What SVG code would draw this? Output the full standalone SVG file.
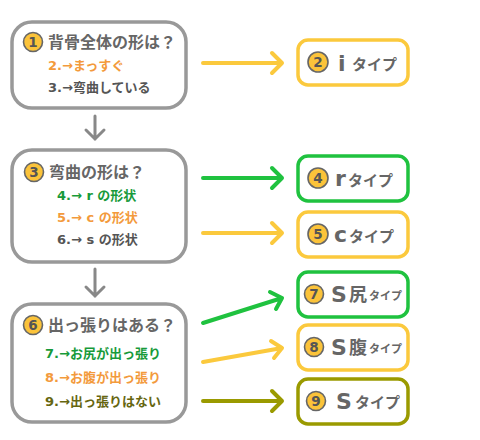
<svg xmlns="http://www.w3.org/2000/svg" width="480" height="440" viewBox="0 0 480 440">
<defs>
<style>
text{font-family:"DejaVu Sans","Noto Sans CJK JP",sans-serif;font-weight:bold}
.q{fill:none;stroke:#999;stroke-width:3.5}
.t{fill:#fff;stroke-width:3.5}
.badge{fill:#fbc33a;stroke:#666;stroke-width:1.6}
.num{fill:#555;font-size:13.5px;text-anchor:middle}
.title{fill:#666;font-size:16px}
.it{font-size:13px}
.gr{fill:#179a3a}.or{fill:#f39a3c}.gy{fill:#555}.ol{fill:#666610}
.lab{fill:#666}
.ar{fill:none;stroke-width:4;stroke-linecap:round;stroke-linejoin:round}
.y{stroke:#fbc93d}.g{stroke:#1fc23f}.o{stroke:#9a9a00}
.dn{fill:none;stroke:#888;stroke-width:3;stroke-linecap:round}
</style>
</defs>
<g id="connectors">
<path class="dn" d="M95 116V139M86 130L95 139L104 130"/>
<path class="dn" d="M95 269V296M86 287L95 296L104 287"/>
<path class="ar y" d="M203 63H282M272 53L282 63L272 73"/>
<path class="ar g" d="M203 178H282M272 168L282 178L272 188"/>
<path class="ar y" d="M203 233H282M272 223L282 233L272 243"/>
<path class="ar g" d="M203 323L282 298M270 292L282 298L276 309"/>
<path class="ar y" d="M203 362L282 348M271 341L282 348L274 358"/>
<path class="ar o" d="M203 401H282M272 391L282 401L272 411"/>
</g>
<g id="q1">
<rect class="q" x="12" y="22" width="174" height="86" rx="20"/>
<circle class="badge" cx="33" cy="42" r="9.5"/><text class="num" x="33" y="47">1</text>
<text class="title" x="48" y="48">背骨全体の形は？</text>
<text class="it or" x="48" y="70">2.→まっすぐ</text>
<text class="it gy" x="48" y="92">3.→弯曲している</text>
</g>
<g id="q3">
<rect class="q" x="12" y="150" width="174" height="112" rx="20"/>
<circle class="badge" cx="34" cy="172" r="9.5"/><text class="num" x="34" y="177">3</text>
<text class="title" x="49" y="178">弯曲の形は？</text>
<text class="it gr" x="57" y="200">4.→ r の形状</text>
<text class="it or" x="57" y="222">5.→ c の形状</text>
<text class="it gy" x="57" y="244">6.→ s の形状</text>
</g>
<g id="q6">
<rect class="q" x="12" y="304" width="174" height="118" rx="20"/>
<circle class="badge" cx="33" cy="325" r="9.5"/><text class="num" x="33" y="330">6</text>
<text class="title" x="48" y="331">出っ張りはある？</text>
<text class="it gr" x="45" y="358">7.→お尻が出っ張り</text>
<text class="it or" x="45" y="382">8.→お腹が出っ張り</text>
<text class="it ol" x="45" y="406">9.→出っ張りはない</text>
</g>
<g id="t2">
<rect class="t y" x="298" y="40" width="110" height="45" rx="10"/>
<circle class="badge" cx="318" cy="62" r="10"/><text class="num" x="318" y="67">2</text>
<text class="lab" x="338" y="71" font-size="22">i</text>
<text class="lab" x="352" y="70" font-size="15">タイプ</text>
</g>
<g id="t4">
<rect class="t g" x="298" y="156" width="110" height="45" rx="10"/>
<circle class="badge" cx="318" cy="178" r="10"/><text class="num" x="318" y="183">4</text>
<text class="lab" x="335" y="186" font-size="22">r</text>
<text class="lab" x="348" y="186" font-size="15">タイプ</text>
</g>
<g id="t5">
<rect class="t y" x="298" y="212" width="110" height="45" rx="10"/>
<circle class="badge" cx="318" cy="234" r="10"/><text class="num" x="318" y="239">5</text>
<text class="lab" x="334" y="242" font-size="22">c</text>
<text class="lab" x="349" y="242" font-size="15">タイプ</text>
</g>
<g id="t7">
<rect class="t g" x="298" y="272" width="110" height="45" rx="10"/>
<circle class="badge" cx="314" cy="294" r="9.5"/><text class="num" x="314" y="299">7</text>
<text class="lab" x="331" y="302" font-size="22">S</text>
<text class="lab" x="349" y="301" font-size="18">尻</text>
<text class="lab" x="369" y="300" font-size="11">タイプ</text>
</g>
<g id="t8">
<rect class="t y" x="298" y="325" width="110" height="45" rx="10"/>
<circle class="badge" cx="314" cy="347" r="9.5"/><text class="num" x="314" y="352">8</text>
<text class="lab" x="331" y="355" font-size="22">S</text>
<text class="lab" x="349" y="354" font-size="18">腹</text>
<text class="lab" x="369" y="353" font-size="11">タイプ</text>
</g>
<g id="t9">
<rect class="t o" x="298" y="379" width="110" height="45" rx="10"/>
<circle class="badge" cx="316" cy="401" r="9.5"/><text class="num" x="316" y="406">9</text>
<text class="lab" x="336" y="409" font-size="22">S</text>
<text class="lab" x="355" y="408" font-size="15">タイプ</text>
</g>
</svg>
